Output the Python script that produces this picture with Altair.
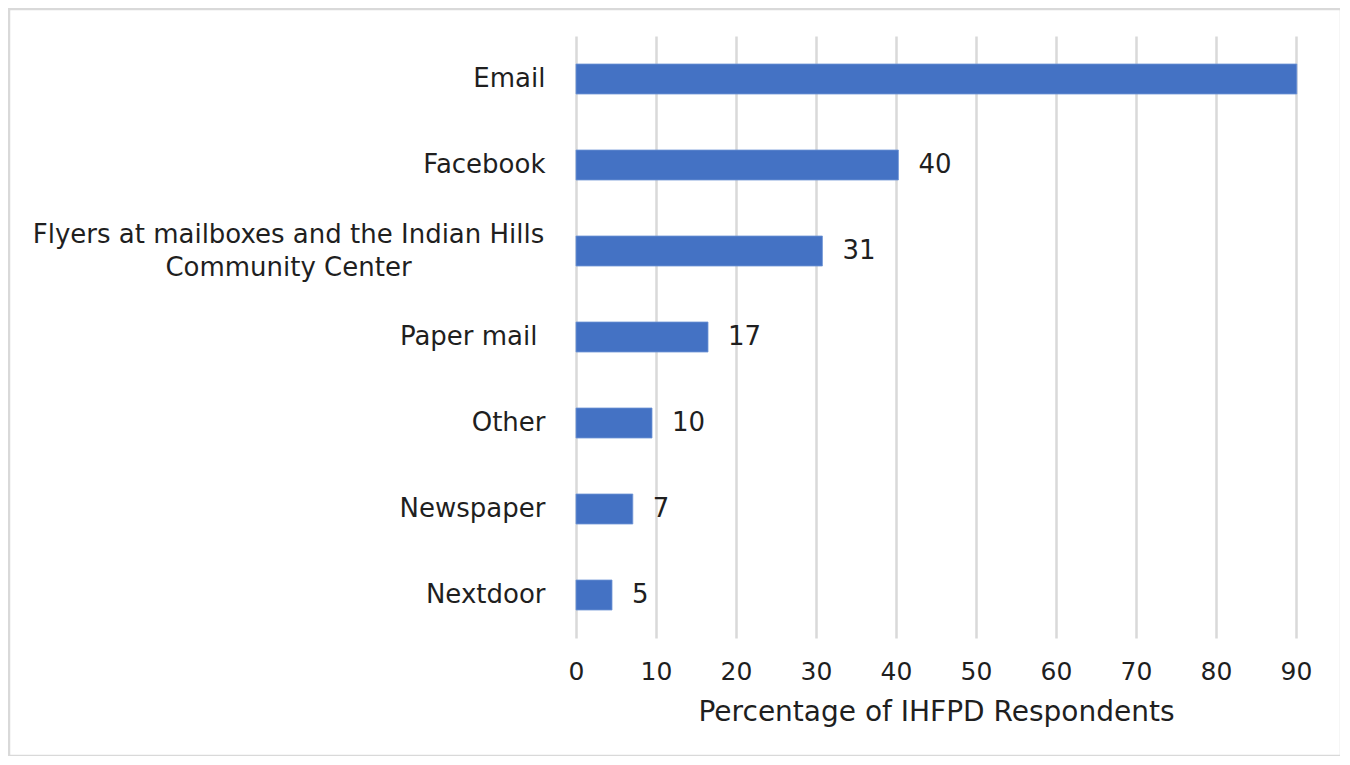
import altair as alt
import pandas as pd

categories = [
    "Email",
    "Facebook",
    "Flyers at mailboxes and the Indian Hills|Community Center",
    "Paper mail ",
    "Other",
    "Newspaper",
    "Nextdoor",
]
values = [90.1, 40.3, 30.8, 16.5, 9.5, 7.1, 4.5]
value_labels = ["", "40", "31", "17", "10", "7", "5"]
x_ticks = [0, 10, 20, 30, 40, 50, 60, 70, 80, 90]

df = pd.DataFrame({"category": categories, "value": values, "label": value_labels})

FONT = "DejaVu Sans"
TEXT = "#1f1f1f"
GRID = "#d9d9d9"
BAR = "#4472C4"

is_multi = "indexof(datum.value,'|')>=0"
trailing_space = "slice(datum.value,-1)==' '"
label_expr = (
    is_multi + " ? "
    "[slice(datum.value,0,indexof(datum.value,'|')), slice(datum.value,indexof(datum.value,'|')+1)]"
    " : trim(datum.value)"
)

y_enc = alt.Y(
    "category:N",
    sort=categories,
    scale=alt.Scale(paddingInner=0, paddingOuter=0),
    axis=alt.Axis(
        title=None,
        domain=False,
        ticks=False,
        grid=False,
        labelExpr=label_expr,
        labelFont=FONT,
        labelFontSize=26,
        labelColor=TEXT,
        labelLineHeight=33,
        labelLimit=700,
        labelAlign=alt.ConditionalAxisLabelAlign(
            condition={"test": is_multi, "value": "center"},
            value="right",
        ),
        labelPadding=alt.ConditionalAxisNumber(
            condition=[
                {"test": is_multi, "value": 288},
                {"test": trailing_space, "value": 39},
            ],
            value=31,
        ),
        labelOffset=alt.ConditionalAxisNumber(
            condition={"test": is_multi, "value": -16},
            value=0,
        ),
    ),
)

x_enc = alt.X(
    "value:Q",
    scale=alt.Scale(domain=[0, 90], nice=False),
    axis=alt.Axis(
        title="Percentage of IHFPD Respondents",
        values=x_ticks,
        domain=False,
        ticks=False,
        grid=True,
        gridColor=GRID,
        gridWidth=2.5,
        labelFlush=False,
        labelFont=FONT,
        labelFontSize=25,
        labelColor=TEXT,
        labelPadding=21,
        titleFont=FONT,
        titleFontSize=28,
        titleFontWeight="normal",
        titleColor=TEXT,
        titlePadding=14,
    ),
)

bars = alt.Chart(df).mark_bar(color=BAR, size=30, stroke="#6f94d6", strokeWidth=0.8).encode(
    x=x_enc, y=y_enc
)

texts = alt.Chart(df).mark_text(
    align="left", baseline="middle", dx=20, font=FONT, fontSize=26, color=TEXT
).encode(
    x="value:Q",
    y=alt.Y("category:N", sort=categories),
    text="label:N",
)

border = alt.Chart(pd.DataFrame({"a": [0]})).mark_rect(
    fill=None, stroke=GRID, strokeWidth=2.5
).encode(
    x=alt.value(-567),
    x2=alt.value(765),
    y=alt.value(-27),
    y2=alt.value(720),
)

chart = (
    alt.layer(border, bars, texts)
    .properties(
        width=720,
        height=602,
        autosize=alt.AutoSizeParams(type="none"),
        padding={"left": 568, "top": 28, "right": 44, "bottom": 118},
        background="white",
    )
    .configure_view(stroke=None)
)

chart.save("out.html", embed_options={"renderer": "svg", "actions": False})
